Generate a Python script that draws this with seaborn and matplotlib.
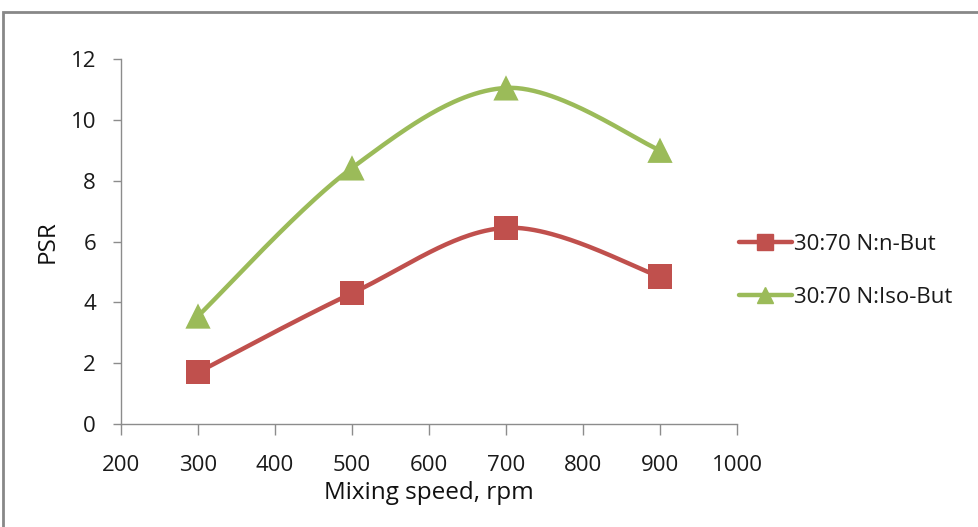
import numpy as np
import pandas as pd
import matplotlib
matplotlib.use("Agg")
import matplotlib.pyplot as plt
import seaborn as sns
from matplotlib.patches import Rectangle

speed = [300, 500, 700, 900]
n_but = [1.7, 4.3, 6.45, 4.85]
iso_but = [3.55, 8.42, 11.05, 9.0]
series_names = ["30:70 N:n-But", "30:70 N:Iso-But"]
colors = ["#C0504D", "#9BBB59"]
markers = ["s", "^"]


def smooth(xs, ys, n=60):
    xs = np.asarray(xs, float)
    ys = np.asarray(ys, float)
    px = np.concatenate([[xs[0]], xs, [xs[-1]]])
    py = np.concatenate([[ys[0]], ys, [ys[-1]]])
    ox, oy = [], []
    t = np.linspace(0, 1, n)
    for i in range(1, len(px) - 2):
        p0 = np.array([px[i], py[i]])
        p3 = np.array([px[i + 1], py[i + 1]])
        c1 = p0 + (np.array([px[i + 1], py[i + 1]]) - np.array([px[i - 1], py[i - 1]])) / 6
        c2 = p3 - (np.array([px[i + 2], py[i + 2]]) - np.array([px[i], py[i]])) / 6
        b = ((1 - t) ** 3)[:, None] * p0 + (3 * (1 - t) ** 2 * t)[:, None] * c1 \
            + (3 * (1 - t) * t ** 2)[:, None] * c2 + (t ** 3)[:, None] * p3
        ox.extend(b[:, 0]); oy.extend(b[:, 1])
    return np.array(ox), np.array(oy)


sns.set_style("white")
plt.rcParams["font.family"] = ["Open Sans", "DejaVu Sans"]

fig = plt.figure(figsize=(9.79, 5.27), dpi=100)
ax = fig.add_axes([0.1236, 0.1954, 0.6292, 0.6926])

for ys, name, c, m in zip([n_but, iso_but], series_names, colors, markers):
    sx, sy = smooth(speed, ys)
    sns.lineplot(x=sx, y=sy, ax=ax, color=c, lw=3.2, sort=False, estimator=None)
    ax.plot([], [], color=c, lw=3.2, marker=m, markersize=13, label=name)
    sns.scatterplot(x=speed, y=ys, ax=ax, color=c, marker=m, s=300 if m == "s" else 330,
                    edgecolor="none", zorder=5, legend=False)

ax.set_xlim(200, 1000)
ax.set_ylim(0, 12)
ax.set_xticks(range(200, 1001, 100))
ax.set_yticks(range(0, 13, 2))
ax.tick_params(axis="both", labelsize=16, labelcolor="#1a1a1a", bottom=True, left=True)
ax.tick_params(axis="x", direction="out", length=8, color="#8c8c8c", width=1, pad=14)
ax.tick_params(axis="y", direction="out", length=6, color="#8c8c8c", width=1, pad=12)
for s in ["top", "right"]:
    ax.spines[s].set_visible(False)
for s in ["left", "bottom"]:
    ax.spines[s].set_color("#8c8c8c")
    ax.spines[s].set_linewidth(1)
ax.set_xlabel("Mixing speed, rpm", fontsize=17.5, color="#111111", labelpad=4)
ax.set_ylabel("PSR", fontsize=17.5, color="#111111", labelpad=8)

leg = ax.legend(loc="center left", bbox_to_anchor=(0.97, 0.419), frameon=False, fontsize=16,
                handlelength=2.4, labelspacing=1.45, handletextpad=0.1, markerscale=0.9,
                labelcolor="#1a1a1a")

fig.patches.append(Rectangle((3 / 979, -0.1), 1.2, 1 - 12 / 527 + 0.1, transform=fig.transFigure,
                             fill=False, edgecolor="#888888", lw=2))

fig.savefig("out.png", dpi=100)
